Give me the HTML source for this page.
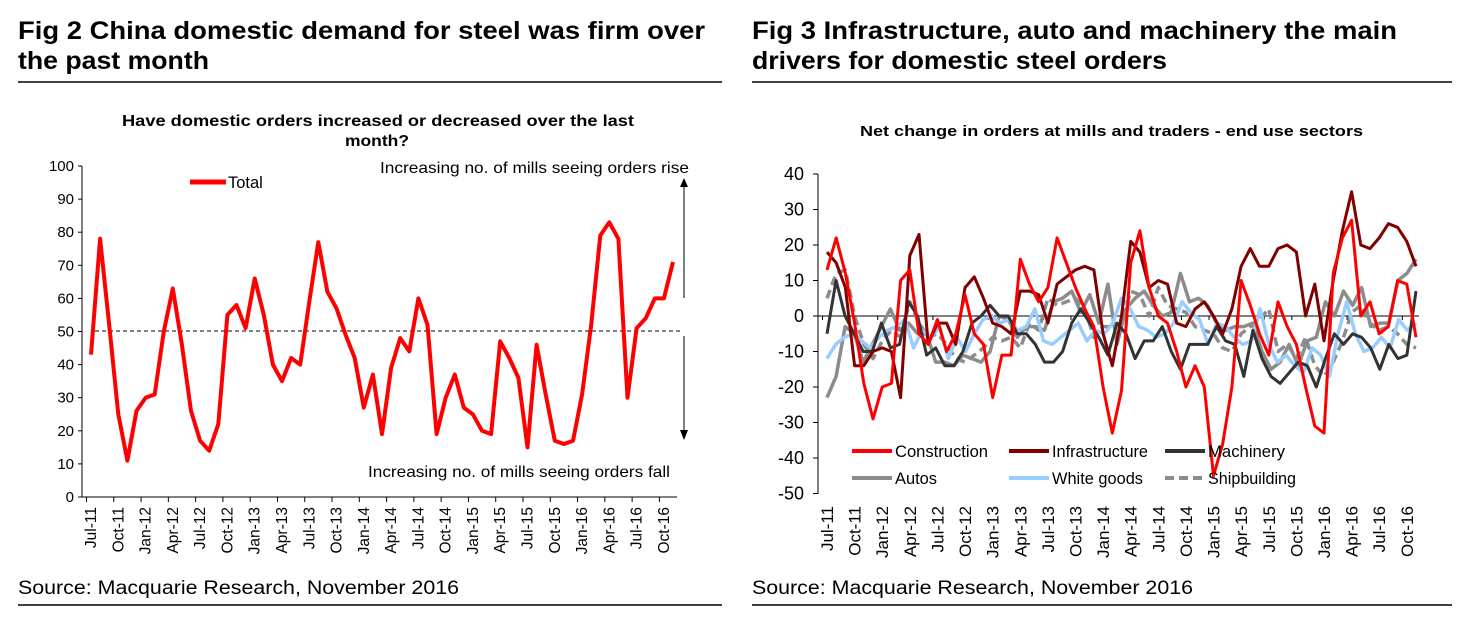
<!DOCTYPE html>
<html><head><meta charset="utf-8"><style>
body{margin:0;background:#fff;font-family:"Liberation Sans",Arial,sans-serif;}
svg{display:block}
</style></head><body>
<svg id="s" width="1459" height="618" xmlns="http://www.w3.org/2000/svg" font-family="Liberation Sans, Arial, sans-serif">
<text x="18" y="39" font-size="25" font-weight="bold" textLength="687" lengthAdjust="spacingAndGlyphs">Fig 2   China domestic demand for steel was firm over</text>
<text x="18" y="69" font-size="25" font-weight="bold" textLength="191" lengthAdjust="spacingAndGlyphs">the past month</text>
<line x1="18" y1="82" x2="722" y2="82" stroke="#000" stroke-width="1.5"/>
<text x="752" y="39" font-size="25" font-weight="bold" textLength="645" lengthAdjust="spacingAndGlyphs">Fig 3   Infrastructure, auto and machinery the main</text>
<text x="752" y="69" font-size="25" font-weight="bold" textLength="415" lengthAdjust="spacingAndGlyphs">drivers for domestic steel orders</text>
<line x1="752" y1="82" x2="1452" y2="82" stroke="#000" stroke-width="1.5"/>
<text x="122" y="126" font-size="16" font-weight="bold" textLength="512" lengthAdjust="spacingAndGlyphs">Have domestic orders increased or decreased over the last</text>
<text x="345" y="146" font-size="16" font-weight="bold" textLength="64" lengthAdjust="spacingAndGlyphs">month?</text>
<text x="860" y="136" font-size="15" font-weight="bold" textLength="503" lengthAdjust="spacingAndGlyphs">Net change in orders at mills and traders - end use sectors</text>
<text x="18" y="594" font-size="19" textLength="441" lengthAdjust="spacingAndGlyphs">Source: Macquarie Research, November 2016</text>
<line x1="18" y1="605" x2="722" y2="605" stroke="#000" stroke-width="1.5"/>
<text x="752" y="594" font-size="19" textLength="441" lengthAdjust="spacingAndGlyphs">Source: Macquarie Research, November 2016</text>
<line x1="752" y1="605" x2="1452" y2="605" stroke="#000" stroke-width="1.5"/>
<g id="g"></g>
</svg>
<script>
var g=document.getElementById('g'),h='';
function ln(x1,y1,x2,y2,c,w,d){h+='<line x1="'+x1+'" y1="'+y1+'" x2="'+x2+'" y2="'+y2+'" stroke="'+c+'" stroke-width="'+(w||1)+'"'+(d?' stroke-dasharray="'+d+'"':'')+'/>';}
function tx(x,y,t,s,a,extra){h+='<text x="'+x+'" y="'+y+'" font-size="'+s+'" text-anchor="'+(a||'start')+'" '+(extra||'')+'>'+t+'</text>';}
var months=['Jul-11','Oct-11','Jan-12','Apr-12','Jul-12','Oct-12','Jan-13','Apr-13','Jul-13','Oct-13','Jan-14','Apr-14','Jul-14','Oct-14','Jan-15','Apr-15','Jul-15','Oct-15','Jan-16','Apr-16','Jul-16','Oct-16'];
// LEFT
var L={x0:82,x1:677,y0:497,py:3.31,p0:91,p1:673};
ln(L.x0,166,L.x0,L.y0,'#000');ln(L.x0,L.y0,L.x1,L.y0,'#000');
for(var v=0;v<=100;v+=10){var y=L.y0-v*L.py;ln(L.x0-4,y,L.x0,y,'#000');tx(L.x0-8,y+5,v,15,'end');}
var tot=[43,78,52,25,11,26,30,31,50,63,46,26,17,14,22,55,58,51,66,55,40,35,42,40,59,77,62,57,49,42,27,37,19,39,48,44,60,52,19,30,37,27,25,20,19,47,42,36,15,46,31,17,16,17,31,52,79,83,78,30,51,54,60,60,71];
var st=(L.p1-L.p0)/(tot.length-1);
for(var i=0;i<months.length;i++){var x=L.p0+i*3*st;ln(x-4.5,L.y0,x-4.5,L.y0+5,'#000');tx(0,0,months[i],15.5,'end','transform="translate('+(x+5)+','+(L.y0+10)+') rotate(-90)"');}
ln(95,331,683,331,'#000',1,'4,3');
var p=tot.map(function(v,i){return (L.p0+i*st).toFixed(1)+','+(L.y0-v*L.py).toFixed(1)}).join(' ');
h+='<polyline points="'+p+'" fill="none" stroke="#f00" stroke-width="4" stroke-linejoin="round"/>';
ln(190,182,226,182,'#f00',5);tx(228,188,'Total',16.5);
tx(380,173,'Increasing no. of mills seeing orders rise',16,'start','textLength="309" lengthAdjust="spacingAndGlyphs"');
tx(368,477,'Increasing no. of mills seeing orders fall',16,'start','textLength="302" lengthAdjust="spacingAndGlyphs"');
ln(684,298,684,185,'#000');h+='<polygon points="680,187 688,187 684,178" fill="#000"/>';
ln(684,336,684,432,'#000');h+='<polygon points="680,430 688,430 684,440" fill="#000"/>';
// RIGHT
var R={x0:818,x1:1419,z:316,py:3.55,p0:827,p1:1416};
ln(R.x0,174,R.x0,494,'#000');
for(var v=-50;v<=40;v+=10){var y=R.z-v*R.py;ln(R.x0-5,y,R.x0,y,'#000');tx(R.x0-14,y+6,v,18,'end');}
ln(R.x0,R.z,R.x1,R.z,'#000');
var rs=(R.p1-R.p0)/64;
for(var i=0;i<months.length;i++){var x=R.p0+i*3*rs;ln(x-4.5,R.z,x-4.5,R.z+4,'#000');tx(0,0,months[i],17,'end','transform="translate('+(x+6)+','+(506)+') rotate(-90)"');}
function ser(d,c,w,dash){var n=d.length,s=(R.p1-R.p0)/(n-1);var p=d.map(function(v,i){return (R.p0+i*s).toFixed(1)+','+(R.z-v*R.py).toFixed(1)}).join(' ');h+='<polyline points="'+p+'" fill="none" stroke="'+c+'" stroke-width="'+w+'" stroke-linejoin="round"'+(dash?' stroke-dasharray="'+dash+'"':'')+'/>';}
ser([-23,-17,-3,-5,-13,-8,-3,2,-4,-2,-5,-5,-13,-13,-14,-11,-12,-13,-10,0,-1,-6,-3,-3,-4,4,5,7,1,6,-2,9,-8,2,5,7,3,0,1,12,4,5,3,-2,-4,-3,-3,-2,-10,-15,-13,-8,-14,-7,-6,4,0,7,3,8,-3,-2,-2,10,12,16],'#8c8c8c',3.5);
ser([5,12,13,0,-8,-12,-7,-4,-6,4,-2,-6,-5,-8,-12,-13,-11,-9,-6,-7,-6,-9,-2,-4,5,3,4,5,2,-6,-3,-3,-2,7,6,0,8,3,2,1,-3,-4,-5,-9,-10,-5,-3,-1,2,-10,-8,-12,-6,-14,-17,-13,-7,1,3,-2,-4,-3,-5,-8,-9],'#8c8c8c',3.5,'9,5');
ser([-12,-8,-6,-5,-7,-9,-6,-4,-3,-1,-9,-4,-6,-3,-12,-6,-10,-5,-1,0,-2,-1,-4,-3,2,-7,-8,-6,-4,-2,-7,-4,-5,-2,5,2,-3,-4,-6,-5,-2,4,1,-1,-8,-2,-3,-6,-8,-7,2,-8,-13,-11,-14,-16,-9,-11,-17,-5,4,-5,-10,-9,-6,-9,-1,-4,-2],'#99ccff',3.5);
ser([-5,10,0,-5,-10,-10,-2,-9,-8,4,0,-11,-9,-14,-14,-10,-2,0,3,0,0,-5,-5,-8,-13,-13,-10,-2,2,-2,-6,-11,-2,-5,-12,-7,-7,-3,-10,-15,-8,-8,-8,-3,-7,-8,-17,-4,-12,-17,-19,-16,-13,-14,-20,-12,-5,-8,-5,-6,-9,-15,-8,-12,-11,7],'#333',3);
ser([18,15,8,-14,-14,-10,-9,-10,-23,17,23,-8,-2,-2,-8,8,11,5,-2,-3,-5,7,7,6,-2,9,11,13,14,13,-5,-14,0,21,18,8,10,9,-2,-3,2,4,0,-5,2,14,19,14,14,19,20,18,0,9,-7,10,24,35,20,19,22,26,25,21,14],'#800000',3);
ser([13,22,12,-2,-19,-29,-20,-19,10,13,-5,-8,-1,-10,-5,6,-5,-8,-23,-11,-11,16,9,4,8,22,15,8,2,-3,-20,-33,-21,15,24,8,0,-2,-10,-20,-14,-20,-45,-36,-20,10,3,-5,-11,4,-3,-8,-20,-31,-33,12,22,27,0,4,-5,-3,10,9,-6],'#f00',3);
function leg(x,y,c,t,w,d){ln(x,y,x+40,y,c,4,d);tx(x+43,y+6,t,17,'start','textLength="'+w+'" lengthAdjust="spacingAndGlyphs"');}
leg(852,451,'#f00','Construction',93);leg(1009,451,'#800000','Infrastructure',96);leg(1165,451,'#333','Machinery',77);
leg(852,478,'#8c8c8c','Autos',42);leg(1009,478,'#99ccff','White goods',91);leg(1165,478,'#8c8c8c','Shipbuilding',88,'9,5');
g.innerHTML=h;
</script>
</body></html>
